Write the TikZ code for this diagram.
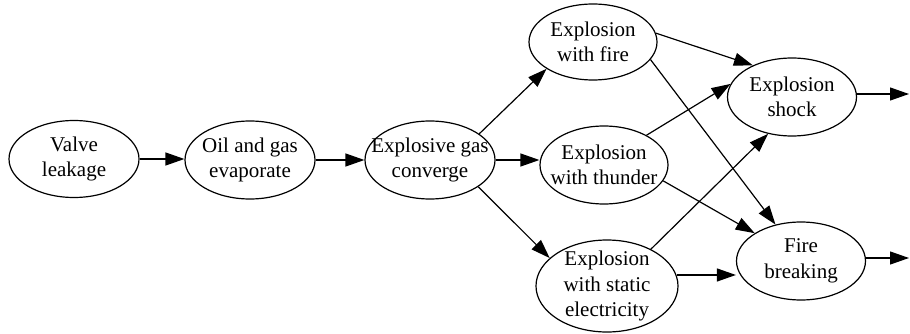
\documentclass[tikz,border=0pt]{standalone}
\usepackage{fontspec}
\setmainfont{Liberation Serif}
\usetikzlibrary{shapes.geometric,arrows.meta}
\tikzset{
  ev/.style={draw, ellipse, line width=1.2pt, inner sep=0pt},
  lbl/.style={align=center, inner sep=0pt, font=\fontsize{21}{25.5}\selectfont},
  conn/.style={line width=1.2pt, -{Triangle[length=19pt,width=13pt]}}
}
\begin{document}
\begin{tikzpicture}[x=1pt,y=-1pt]
\useasboundingbox (0,0) rectangle (910,334);
\node[ev, minimum width=130pt, minimum height=77pt, label={[lbl]center:Valve\\leakage}] (valve) at (74,159) {};
\node[ev, minimum width=130pt, minimum height=78pt, label={[lbl]center:Oil and gas\\evaporate}] (oil) at (250,160) {};
\node[ev, minimum width=130pt, minimum height=78pt, label={[lbl]center:Explosive gas\\converge}] (gas) at (430,160) {};
\node[ev, minimum width=128pt, minimum height=76pt, label={[lbl]center:Explosion\\with fire}] (fire) at (593,42) {};
\node[ev, minimum width=128pt, minimum height=78pt, label={[lbl]center:Explosion\\with thunder}] (thunder) at (604,165) {};
\node[ev, minimum width=142pt, minimum height=92pt, label={[lbl]center:Explosion\\with static\\electricity}] (static) at (607,286) {};
\node[ev, minimum width=129pt, minimum height=78pt, label={[lbl]center:Explosion\\shock}] (shock) at (792,97) {};
\node[ev, minimum width=129pt, minimum height=78pt, label={[lbl]center:Fire\\breaking}] (fb) at (801,261) {};
\coordinate (out1) at (909,94);
\coordinate (out2) at (909,258);

\draw[conn] (valve.east) -- (valve.east -| oil.west);
\draw[conn] (oil.east) -- (gas.west);
\draw[conn] (gas.28) -- (fire.210);
\draw[conn] (gas.east) -- (gas.east -| thunder.west);
\draw[conn] (gas.-29.5) -- (static.154);
\draw[conn] (fire.8) -- (shock.141);
\draw[conn] (fire.-17) -- (fb.125);
\draw[conn] (thunder.35) -- (shock.168);
\draw[conn] (thunder.-15) -- (fb.149);
\draw[conn] (static.40) -- (shock.-123);
\draw[conn] (static.9) -- (static.9 -| fb.west);
\draw[conn] (shock.east |- out1) -- (out1);
\draw[conn] (fb.east |- out2) -- (out2);
\end{tikzpicture}
\end{document}
